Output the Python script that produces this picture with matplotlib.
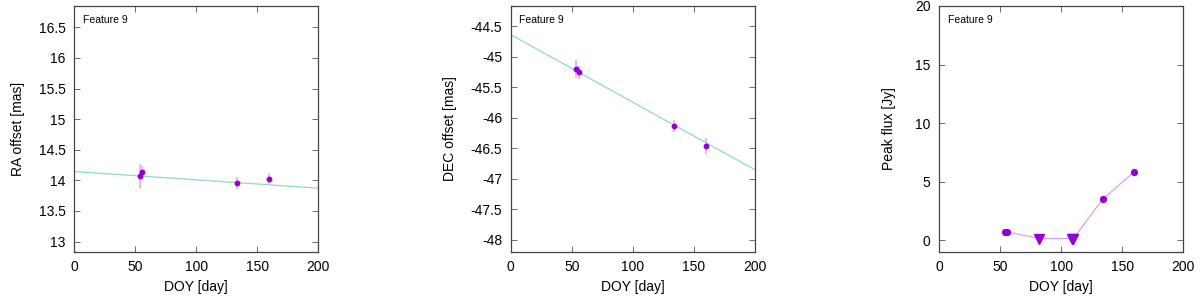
import numpy as np
from matplotlib import pyplot as plt

plt.rcParams['font.family'] = ['Liberation Sans', 'DejaVu Sans']

# 数据
doy = [53.8, 55.8, 133.5, 159.8]
ra = [14.07, 14.13, 13.955, 14.02]
ra_err = [0.2, 0.1, 0.1, 0.1]
ra_fit = [14.145, 13.873]  # 拟合直线在 x=0 和 x=200 处的值

dec = [-45.2, -45.26, -46.13, -46.46]
dec_err = [0.15, 0.1, 0.1, 0.13]
dec_fit = [-44.64, -46.855]

flux_doy = [53.7, 55.7, 82.0, 108.5, 110.0, 134.0, 159.9]
flux = [0.7, 0.72, 0.15, 0.15, 0.15, 3.5, 5.86]
flux_limit = [False, False, True, True, True, False, False]

fit_x = [0, 200]

pt_color = '#9400d3'
err_color = '#e6b8f5'
fit_color = '#8fdcc2'
flux_line = '#d9a0ef'

fig = plt.figure(figsize=(12, 2.97), dpi=100)
lefts = [0.0617, 0.4256, 0.7825]
axes = [fig.add_axes([l, 0.1515, 0.2036, 0.8285]) for l in lefts]


def style(ax):
    ax.tick_params(direction='in', top=True, right=True, labelsize=10,
                   length=4, width=0.6, color='#555555', pad=6)
    for s in ax.spines.values():
        s.set_color('#444444')
        s.set_linewidth(0.9)
    ax.set_xlim(0, 200)
    ax.set_xticks([0, 50, 100, 150, 200])
    ax.set_xlabel('DOY [day]', fontsize=10, labelpad=4)
    ax.text(0.035, 0.965, 'Feature 9', transform=ax.transAxes,
            fontsize=7.5, va='top', ha='left')


# 第一个图像
ax1 = axes[0]
ax1.plot(fit_x, ra_fit, color=fit_color, lw=0.9)
ax1.errorbar(doy, ra, yerr=ra_err, fmt='o', color=pt_color, ms=3.2,
             ecolor=err_color, elinewidth=1.5, capsize=0)
ax1.set_ylim(12.83, 16.85)
ax1.set_yticks([13, 13.5, 14, 14.5, 15, 15.5, 16, 16.5])
ax1.set_yticklabels(['13', '13.5', '14', '14.5', '15', '15.5', '16', '16.5'])
ax1.set_ylabel('RA offset [mas]', fontsize=10, labelpad=10)
style(ax1)

# 第二个图像
ax2 = axes[1]
ax2.plot(fit_x, dec_fit, color=fit_color, lw=0.9)
ax2.errorbar(doy, dec, yerr=dec_err, fmt='o', color=pt_color, ms=3.2,
             ecolor=err_color, elinewidth=1.5, capsize=0)
ax2.set_ylim(-48.2, -44.17)
ax2.set_yticks([-48, -47.5, -47, -46.5, -46, -45.5, -45, -44.5])
ax2.set_yticklabels(['-48', '-47.5', '-47', '-46.5', '-46', '-45.5', '-45', '-44.5'])
ax2.set_ylabel('DEC offset [mas]', fontsize=10, labelpad=10)
style(ax2)

# 第三个图像
ax3 = axes[2]
fd = np.array(flux_doy)
fv = np.array(flux)
lim = np.array(flux_limit)
ax3.plot(fd, fv, color=flux_line, lw=0.9)
ax3.plot(fd[~lim], fv[~lim], 'o', color=pt_color, ms=4.2, mec=pt_color)
ax3.plot(fd[lim], fv[lim], 'v', color=pt_color, ms=7.5, mec=pt_color)
ax3.set_ylim(-1, 20)
ax3.set_yticks([0, 5, 10, 15, 20])
ax3.set_ylabel('Peak flux [Jy]', fontsize=10, labelpad=14)
style(ax3)

fig.savefig('out.png', dpi=100)
